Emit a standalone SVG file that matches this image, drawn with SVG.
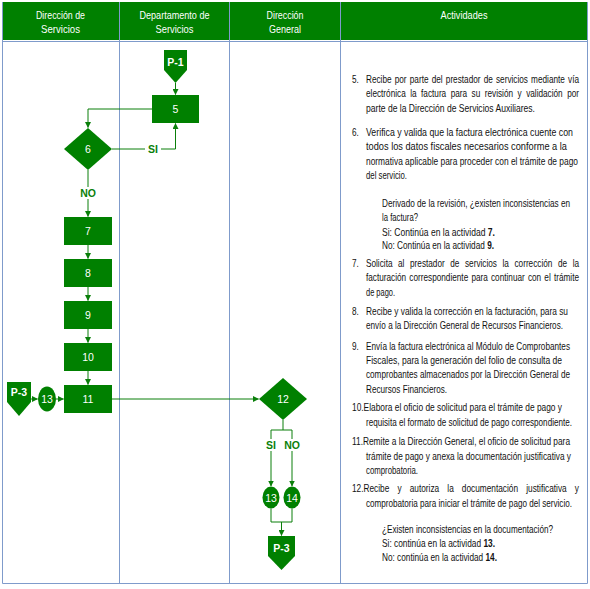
<svg xmlns="http://www.w3.org/2000/svg" width="590" height="589" viewBox="0 0 590 589">
<style>
.hd{font-family:"Liberation Sans",Arial,sans-serif;font-size:10.5px;fill:#ffffff;text-anchor:middle}
.tx{font-family:"Liberation Sans",Arial,sans-serif;font-size:10px;fill:#111111}
.nd{fill:#008000}
.nl{font-family:"Liberation Sans",Arial,sans-serif;font-size:10.5px;fill:#ffffff;text-anchor:middle}
.nb{font-weight:bold}
.cn{fill:none;stroke:#0a7f0a;stroke-width:1}
.lb{font-family:"Liberation Sans",Arial,sans-serif;font-size:10.5px;font-weight:bold;fill:#0a7f0a;text-anchor:middle}
.grid{stroke:#7f9bcb;stroke-width:1;fill:none}
</style>
<defs>
<marker id="ah" markerWidth="6" markerHeight="6" refX="5.5" refY="3" orient="auto" markerUnits="userSpaceOnUse">
<path d="M0,0 L6,3 L0,6 z" fill="#0a7f0a"/>
</marker>
</defs>
<rect x="0" y="0" width="590" height="589" fill="#ffffff"/>
<g id="table">
<rect x="2" y="2" width="586" height="38" fill="#008000"/>
<path class="grid" d="M2.5,2 V583.5 H587.5 V2 M119.5,2 V583.5 M229.5,2 V583.5 M340.5,2 V583.5 M2.5,41.5 H587.5"/>
<text class="hd" x="60.5" y="19" textLength="49" lengthAdjust="spacingAndGlyphs">Dirección de</text>
<text class="hd" x="60.5" y="33" textLength="39" lengthAdjust="spacingAndGlyphs">Servicios</text>
<text class="hd" x="174.5" y="19" textLength="70" lengthAdjust="spacingAndGlyphs">Departamento de</text>
<text class="hd" x="174.5" y="33" textLength="38" lengthAdjust="spacingAndGlyphs">Servicios</text>
<text class="hd" x="285" y="19" textLength="37" lengthAdjust="spacingAndGlyphs">Dirección</text>
<text class="hd" x="285" y="33" textLength="32" lengthAdjust="spacingAndGlyphs">General</text>
<text class="hd" x="464" y="19" textLength="47" lengthAdjust="spacingAndGlyphs">Actividades</text>
</g>
<g id="connectors">
<path class="cn" d="M175.5,83 V94.5" marker-end="url(#ah)"/>
<path class="cn" d="M152,109 H88 V127.5" marker-end="url(#ah)"/>
<path class="cn" d="M112,149 H175.5 V123.5" marker-end="url(#ah)"/>
<path class="cn" d="M88,170 V216.5" marker-end="url(#ah)"/>
<path class="cn" d="M88,245 V258.5" marker-end="url(#ah)"/>
<path class="cn" d="M88,287 V300.5" marker-end="url(#ah)"/>
<path class="cn" d="M88,329 V342.5" marker-end="url(#ah)"/>
<path class="cn" d="M88,371 V384.5" marker-end="url(#ah)"/>
<path class="cn" d="M31,399 H37.5" marker-end="url(#ah)"/>
<path class="cn" d="M56,399 H63.5" marker-end="url(#ah)"/>
<path class="cn" d="M112,399 H258.5" marker-end="url(#ah)"/>
<path class="cn" d="M283,420 V430 M271,430 H292"/>
<path class="cn" d="M271,430 V486" marker-end="url(#ah)"/>
<path class="cn" d="M292,430 V486" marker-end="url(#ah)"/>
<path class="cn" d="M271,508.5 V522 H292 V508.5"/>
<path class="cn" d="M281.5,522 V535.5" marker-end="url(#ah)"/>
<rect x="145" y="143" width="16" height="12" fill="#ffffff"/>
<text class="lb" x="153" y="153">SI</text>
<rect x="78" y="187" width="20" height="12" fill="#ffffff"/>
<text class="lb" x="88" y="197">NO</text>
<rect x="264" y="439" width="14" height="12" fill="#ffffff"/>
<text class="lb" x="271" y="449">SI</text>
<rect x="283" y="439" width="18" height="12" fill="#ffffff"/>
<text class="lb" x="292" y="449">NO</text>
</g>
<g id="node-p1"><polygon class="nd" points="164,50 187,50 187,70 175.5,83 164,70"/><text class="nl nb" x="175.5" y="66">P-1</text></g>
<g id="node-5"><rect class="nd" x="152" y="95" width="47" height="28"/><text class="nl" x="175.5" y="113">5</text></g>
<g id="node-6"><polygon class="nd" points="88,128 112,149 88,170 64,149"/><text class="nl" x="88" y="153">6</text></g>
<g id="node-7"><rect class="nd" x="64" y="217" width="48" height="28"/><text class="nl" x="88" y="235">7</text></g>
<g id="node-8"><rect class="nd" x="64" y="259" width="48" height="28"/><text class="nl" x="88" y="277">8</text></g>
<g id="node-9"><rect class="nd" x="64" y="301" width="48" height="28"/><text class="nl" x="88" y="319">9</text></g>
<g id="node-10"><rect class="nd" x="64" y="343" width="48" height="28"/><text class="nl" x="88" y="361">10</text></g>
<g id="node-11"><rect class="nd" x="64" y="385" width="48" height="28"/><text class="nl" x="88" y="403">11</text></g>
<g id="node-p3a"><polygon class="nd" points="7,382 31,382 31,402 19,416 7,402"/><text class="nl nb" x="19" y="396">P-3</text></g>
<g id="node-13a"><ellipse class="nd" cx="47" cy="399" rx="9" ry="12.5"/><text class="nl" x="47" y="403">13</text></g>
<g id="node-12"><polygon class="nd" points="283,378 307,399 283,420 259,399"/><text class="nl" x="283" y="403">12</text></g>
<g id="node-13b"><ellipse class="nd" cx="271" cy="497.5" rx="8.5" ry="11"/><text class="nl" x="271" y="501.5">13</text></g>
<g id="node-14"><ellipse class="nd" cx="292" cy="497.5" rx="8.5" ry="11"/><text class="nl" x="292" y="501.5">14</text></g>
<g id="node-p3b"><polygon class="nd" points="268,536 295,536 295,556 281.5,570 268,556"/><text class="nl nb" x="281.5" y="552">P-3</text></g>
<g id="activities" transform="translate(366 0) scale(0.82 1)">
<text class="tx" x="-17.07" y="83">5.</text>
<text class="tx" x="0" y="83" style="word-spacing:1.1px" textLength="259.8" lengthAdjust="spacingAndGlyphs">Recibe por parte del prestador de servicios mediante vía</text>
<text class="tx" x="0" y="97.4" style="word-spacing:2.7px" textLength="259.8" lengthAdjust="spacingAndGlyphs">electrónica la factura para su revisión y validación por</text>
<text class="tx" x="0" y="111.8" textLength="206.1" lengthAdjust="spacingAndGlyphs">parte de la Dirección de Servicios Auxiliares.</text>
<text class="tx" x="-17.07" y="136">6.</text>
<text class="tx" x="0" y="136" textLength="252.4" lengthAdjust="spacingAndGlyphs">Verifica y valida que la factura electrónica cuente con</text>
<text class="tx" x="0" y="150.4" textLength="245.1" lengthAdjust="spacingAndGlyphs">todos los datos fiscales necesarios conforme a la</text>
<text class="tx" x="0" y="164.8" textLength="258.5" lengthAdjust="spacingAndGlyphs">normativa aplicable para proceder con el trámite de pago</text>
<text class="tx" x="0" y="179.2" textLength="50" lengthAdjust="spacingAndGlyphs">del servicio.</text>
<text class="tx" x="19.51" y="207" textLength="229.3" lengthAdjust="spacingAndGlyphs">Derivado de la revisión, ¿existen inconsistencias en</text>
<text class="tx" x="19.51" y="221" textLength="43.9" lengthAdjust="spacingAndGlyphs">la factura?</text>
<text class="tx" x="19.51" y="236" textLength="137.8" lengthAdjust="spacingAndGlyphs">Si: Continúa en la actividad <tspan class="nb">7.</tspan></text>
<text class="tx" x="19.51" y="249.5" textLength="136.6" lengthAdjust="spacingAndGlyphs">No: Continúa en la actividad <tspan class="nb">9.</tspan></text>
<text class="tx" x="-17.07" y="267.5">7.</text>
<text class="tx" x="0" y="267.5" style="word-spacing:4px" textLength="259.8" lengthAdjust="spacingAndGlyphs">Solicita al prestador de servicios la corrección de la</text>
<text class="tx" x="0" y="281.5" style="word-spacing:1.1px" textLength="259.8" lengthAdjust="spacingAndGlyphs">facturación correspondiente para continuar con el trámite</text>
<text class="tx" x="0" y="296" textLength="35.4" lengthAdjust="spacingAndGlyphs">de pago.</text>
<text class="tx" x="-17.07" y="315">8.</text>
<text class="tx" x="0" y="315" textLength="246.3" lengthAdjust="spacingAndGlyphs">Recibe y valida la corrección en la facturación, para su</text>
<text class="tx" x="0" y="329" textLength="240.2" lengthAdjust="spacingAndGlyphs">envío a la Dirección General de Recursos Financieros.</text>
<text class="tx" x="-17.07" y="350.5">9.</text>
<text class="tx" x="0" y="350.5" textLength="248.8" lengthAdjust="spacingAndGlyphs">Envía la factura electrónica al Módulo de Comprobantes</text>
<text class="tx" x="0" y="364.5" textLength="239" lengthAdjust="spacingAndGlyphs">Fiscales, para la generación del folio de consulta de</text>
<text class="tx" x="0" y="378.5" textLength="248.8" lengthAdjust="spacingAndGlyphs">comprobantes almacenados por la Dirección General de</text>
<text class="tx" x="0" y="393" textLength="98.8" lengthAdjust="spacingAndGlyphs">Recursos Financieros.</text>
<text class="tx" x="-17.07" y="411.5" textLength="256.1" lengthAdjust="spacingAndGlyphs">10.Elabora el oficio de solicitud para el trámite de pago y</text>
<text class="tx" x="0" y="426.5" textLength="251.2" lengthAdjust="spacingAndGlyphs">requisita el formato de solicitud de pago correspondiente.</text>
<text class="tx" x="-17.07" y="445" textLength="265.9" lengthAdjust="spacingAndGlyphs">11.Remite a la Dirección General, el oficio de solicitud para</text>
<text class="tx" x="0" y="460" textLength="250" lengthAdjust="spacingAndGlyphs">trámite de pago y anexa la documentación justificativa y</text>
<text class="tx" x="0" y="474.5" textLength="63.4" lengthAdjust="spacingAndGlyphs">comprobatoria.</text>
<text class="tx" x="-17.07" y="492.5" style="word-spacing:7px" textLength="276.8" lengthAdjust="spacingAndGlyphs">12.Recibe y autoriza la documentación justificativa y</text>
<text class="tx" x="0" y="507" textLength="251.2" lengthAdjust="spacingAndGlyphs">comprobatoria para iniciar el trámite de pago del servicio.</text>
<text class="tx" x="19.51" y="533.5" textLength="208.5" lengthAdjust="spacingAndGlyphs">¿Existen inconsistencias en la documentación?</text>
<text class="tx" x="19.51" y="547.5" textLength="137.8" lengthAdjust="spacingAndGlyphs">Si: continúa en la actividad <tspan class="nb">13.</tspan></text>
<text class="tx" x="19.51" y="561.5" textLength="140.2" lengthAdjust="spacingAndGlyphs">No: continúa en la actividad <tspan class="nb">14.</tspan></text>
</g>
</svg>
